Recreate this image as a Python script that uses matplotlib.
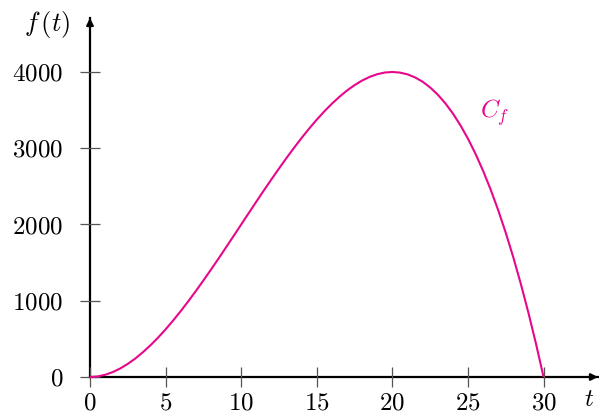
import matplotlib.pyplot as plt

plt.rcParams['mathtext.fontset'] = 'cm'
plt.rcParams['font.family'] = 'serif'
plt.rcParams['font.serif'] = ['cmr10']
plt.rcParams['axes.formatter.use_mathtext'] = True

# Valeurs (pas de 0.5)
t = [i * 0.5 for i in range(61)]
f = [0, 7, 29, 64, 112, 172, 243, 325, 416, 516,
     625, 741, 864, 993, 1127, 1266, 1408, 1553, 1701, 1850,
     2000, 2150, 2299, 2447, 2592, 2734, 2873, 3007, 3136, 3259,
     3375, 3484, 3584, 3675, 3757, 3828, 3888, 3936, 3971, 3993,
     4000, 3992, 3969, 3929, 3872, 3797, 3703, 3590, 3456, 3301,
     3125, 2926, 2704, 2458, 2187, 1891, 1568, 1218, 841, 435, 0]
xticks = [0, 5, 10, 15, 20, 25, 30]
yticks = [0, 1000, 2000, 3000, 4000]

col = '#E6078C'

fig = plt.figure(figsize=(5.99, 4.17), dpi=100)
ax = fig.add_axes([90/599, 40/417, 508/599, 359/417])

ax.plot(t, f, color=col, lw=1.5, solid_capstyle='butt', clip_on=False)

ax.set_xlim(0, 33.6)
ax.set_ylim(0, 4708)

for s in ['top', 'right']:
    ax.spines[s].set_visible(False)
for s in ['left', 'bottom']:
    ax.spines[s].set_linewidth(1.6)
    ax.spines[s].set_zorder(1)

# flèches des axes
ax.annotate('', xy=(1, 0), xytext=(0.99, 0), xycoords='axes fraction',
            arrowprops=dict(arrowstyle='-|>', color='black', lw=1.6,
                            mutation_scale=10, shrinkA=0, shrinkB=0))
ax.annotate('', xy=(0, 1), xytext=(0, 0.99), xycoords='axes fraction',
            arrowprops=dict(arrowstyle='-|>', color='black', lw=1.6,
                            mutation_scale=10, shrinkA=0, shrinkB=0))

ax.set_xticks(xticks)
ax.set_yticks(yticks)
ax.set_xticklabels([f'${v}$' for v in xticks])
ax.set_yticklabels([f'${v}$' for v in yticks])
ax.tick_params(direction='inout', length=14.5, width=0.9, color='#555555',
               labelsize=18)
ax.tick_params(axis='y', pad=12)
ax.tick_params(axis='x', pad=4)

ax.text(-1.3, 4620, '$f\\,(t)$', fontsize=19, ha='right', va='center')
ax.text(33.0, -300, '$t$', fontsize=18, ha='center', va='center')
ax.text(26.8, 3470, '$C_f$', fontsize=18, color=col, ha='center', va='center')

fig.savefig('out.png', dpi=100)
